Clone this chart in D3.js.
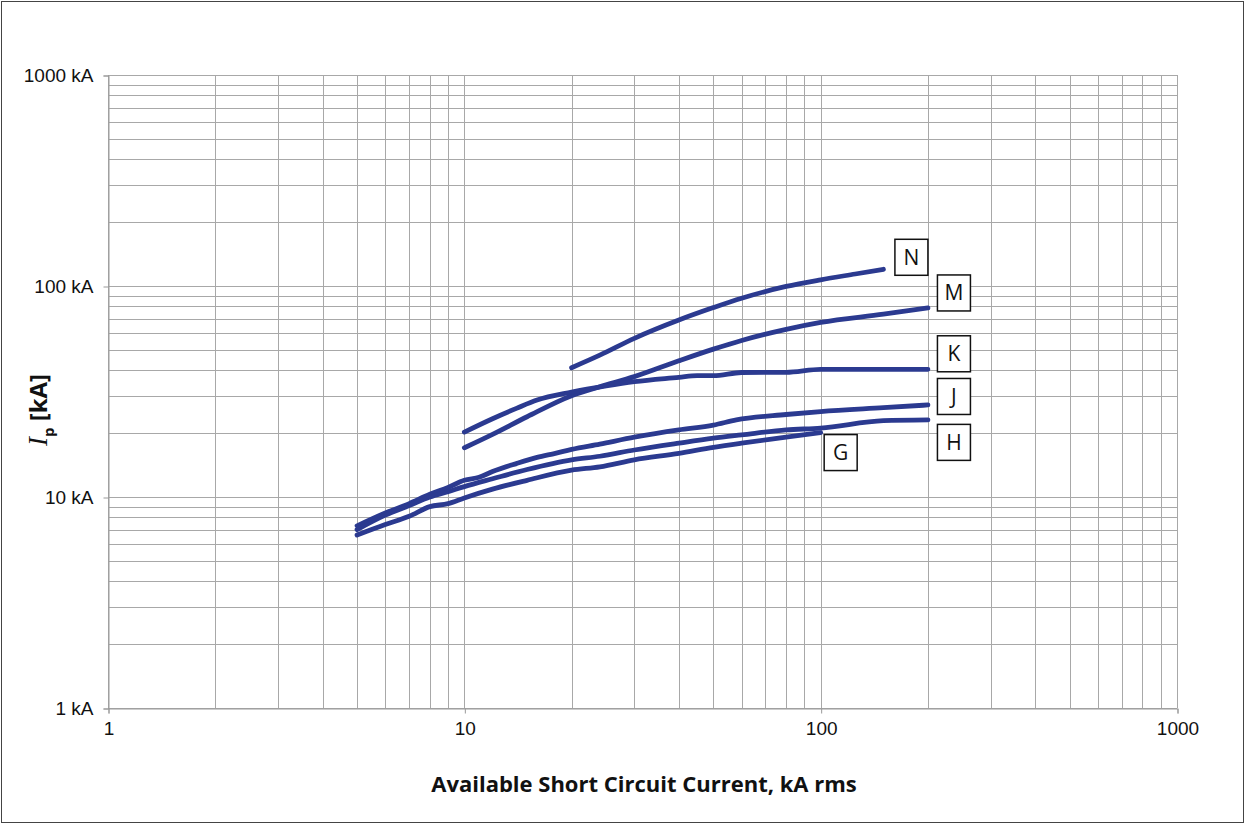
<!DOCTYPE html>
<html><head><meta charset="utf-8">
<script src="https://cdn.jsdelivr.net/npm/d3@7"></script>
<style>body{margin:0;background:#fff;}svg{display:block;}</style>
</head><body>
<script>
// ---- data ----
const xTicks = [1, 10, 100, 1000];
const xTickLabels = ["1", "10", "100", "1000"];
const yTicks = [1, 10, 100, 1000];
const yTickLabels = ["1 kA", "10 kA", "100 kA", "1000 kA"];
const seriesNames = ["N", "M", "K", "J", "H", "G"];

const nX = [20, 24, 30, 40, 50, 60, 80, 100, 125, 150];
const nY = [41, 47, 56.5, 69, 79, 87.5, 99.5, 107, 114, 120];

const mX = [10, 12, 15, 20, 24, 30, 40, 50, 60, 80, 100, 150, 200];
const mY = [17.1, 19.8, 24, 30.2, 33.3, 37.2, 44.2, 50.2, 55.2, 62.3, 67.2, 73.5, 78.7];

const kX = [10, 12, 14, 16, 20, 25, 30, 40, 45, 50, 60, 80, 100, 150, 200];
const kY = [20.3, 23.5, 26.3, 28.8, 31.4, 33.6, 35.2, 36.9, 37.6, 37.6, 38.9, 39, 40.3, 40.3, 40.3];

const jX = [5, 6, 7, 8, 9, 10, 11, 12, 14, 16, 18, 20, 24, 30, 40, 50, 58, 80, 100, 150, 200];
const jY = [7.3, 8.4, 9.3, 10.3, 11.1, 12.0, 12.4, 13.2, 14.4, 15.4, 16.1, 16.8, 17.8, 19.2, 20.8, 21.9, 23.2, 24.6, 25.4, 26.5, 27.3];

const hX = [5, 6, 7, 8, 9, 10, 12, 15, 20, 24, 30, 40, 50, 60, 80, 100, 150, 200];
const hY = [7.0, 8.2, 9.1, 10.0, 10.6, 11.2, 12.2, 13.5, 15.0, 15.6, 16.7, 18.0, 19.0, 19.7, 20.8, 21.2, 23.0, 23.2];

const gX = [5, 6, 7, 8, 9, 10, 12, 15, 20, 24, 30, 40, 50, 60, 80, 100];
const gY = [6.6, 7.4, 8.1, 9.0, 9.3, 9.9, 10.9, 12.0, 13.4, 13.9, 15.0, 16.1, 17.2, 18.0, 19.2, 20.2];

const seriesX = [nX, mX, kX, jX, hX, gX];
const seriesY = [nY, mY, kY, jY, hY, gY];

// ---- style / layout ----
const W = 1245, H = 824;
const lineColor = "#2b3a90";
const gridColor = "#a8a8a8";
// label box offsets from each series' last point (px)
const labelOffsets = [[28, -12], [26, -15], [26, -15.5], [26, -8.5], [26, 22.5], [20, 20]];

const svg = d3.select("body").append("svg").attr("width", W).attr("height", H);

svg.append("rect").attr("x", 1.5).attr("y", 1.5).attr("width", W - 3).attr("height", H - 3)
  .attr("fill", "#fff").attr("stroke", "#444").attr("stroke-width", 1);

const x = d3.scaleLog().domain([1, 1000]).range([108, 1177]);
const y = d3.scaleLog().domain([1, 1000]).range([708, 75]);

const gridVals = [];
[1, 10, 100].forEach(d => { for (let k = 1; k <= 9; k++) gridVals.push(d * k); });
gridVals.push(1000);

const g = svg.append("g");
g.selectAll("line.vg").data(gridVals).enter().append("line")
  .attr("x1", d => Math.round(x(d)) + 0.5).attr("x2", d => Math.round(x(d)) + 0.5)
  .attr("y1", y(1000)).attr("y2", y(1))
  .attr("stroke", gridColor).attr("stroke-width", 1);
g.selectAll("line.hg").data(gridVals).enter().append("line")
  .attr("y1", d => Math.round(y(d)) + 0.5).attr("y2", d => Math.round(y(d)) + 0.5)
  .attr("x1", x(1)).attr("x2", x(1000))
  .attr("stroke", gridColor).attr("stroke-width", 1);

const yAxis = d3.axisLeft(y).tickValues(yTicks).tickFormat((d, i) => yTickLabels[i]).tickSize(5).tickPadding(10);
const xAxis = d3.axisBottom(x).tickValues(xTicks).tickFormat((d, i) => xTickLabels[i]).tickSize(5).tickPadding(8);

const ya = svg.append("g").attr("transform", `translate(${x(1) + 0.5},0.5)`).call(yAxis);
const xa = svg.append("g").attr("transform", `translate(0.5,${y(1) + 0.5})`).call(xAxis);
[ya, xa].forEach(a => {
  a.attr("font-size", null).attr("font-family", null);
  a.select(".domain").attr("stroke", "#999");
  a.selectAll(".tick line").attr("stroke", "#999");
  a.selectAll(".tick text").attr("fill", "#111")
    .style("font-family", "'Liberation Sans', Arial, sans-serif").style("font-size", "19px");
});

const line = d3.line().x(d => x(d[0])).y(d => y(d[1])).curve(d3.curveMonotoneX);
seriesNames.forEach((name, i) => {
  const pts = seriesX[i].map((v, j) => [v, seriesY[i][j]]);
  svg.append("path").datum(pts).attr("d", line)
    .attr("fill", "none").attr("stroke", lineColor).attr("stroke-width", 4.8)
    .attr("stroke-linecap", "round").attr("stroke-linejoin", "round");
  const last = pts[pts.length - 1];
  const cx = x(last[0]) + labelOffsets[i][0], cy = y(last[1]) + labelOffsets[i][1];
  svg.append("rect").attr("x", cx - 16.5).attr("y", cy - 18).attr("width", 33).attr("height", 36)
    .attr("fill", "#fff").attr("stroke", "#111").attr("stroke-width", 1.5);
  svg.append("text").attr("x", cx).attr("y", cy + 7.5).attr("text-anchor", "middle")
    .style("font-family", "'Open Sans', 'Noto Sans', sans-serif").style("font-size", "21px")
    .attr("fill", "#111").text(name);
});

svg.append("text").attr("x", 644).attr("y", 792).attr("text-anchor", "middle")
  .style("font-family", "'Open Sans', 'Noto Sans', sans-serif").style("font-weight", "bold")
  .style("font-size", "22px").attr("fill", "#111")
  .text("Available Short Circuit Current, kA rms");

const yt = svg.append("text").attr("transform", "translate(47,410) rotate(-90)")
  .attr("text-anchor", "middle").attr("fill", "#111");
yt.append("tspan").style("font-family", "'Liberation Serif', 'DejaVu Serif', serif")
  .style("font-style", "italic").style("font-size", "27px").text("I");
yt.append("tspan").attr("dy", 7).style("font-family", "'Open Sans', sans-serif")
  .style("font-weight", "bold").style("font-size", "15px").text("p");
yt.append("tspan").attr("dy", -7).style("font-family", "'Open Sans', sans-serif")
  .style("font-weight", "bold").style("font-size", "24px").text(" [kA]");
</script>
</body></html>
